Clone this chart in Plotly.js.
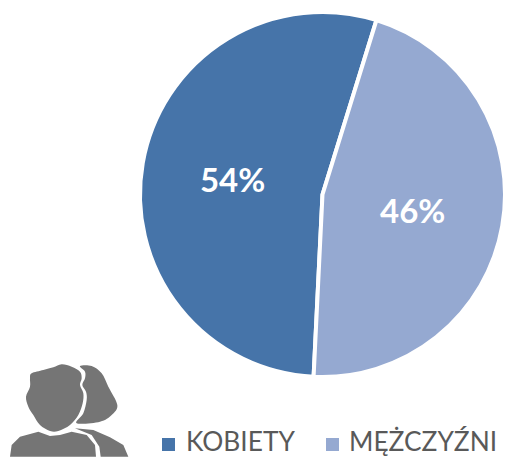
<!DOCTYPE html>
<html><head><meta charset="utf-8"><script src="https://cdn.plot.ly/plotly-3.0.0.min.js"></script>
<style>html,body{margin:0;padding:0;background:#fff}</style></head><body><div id="c" style="width:505px;height:458px"></div>
<script>
const labels=["KOBIETY","MĘŻCZYŹNI"];
const values=[54,46];
const colors=["#4674A9","#95A9D1"];
const W=505,H=458;
// Icon outlines in pixels
const manHead=[[95,70],[130,60],[160,52],[185,43],[215,50],[240,65],[245,85],[240,105],[250,130],[248,160],[235,195],[210,225],[175,243],[150,243],[120,225],[100,195],[85,170],[78,140],[90,110],[90,85]];
const manBody=[[30,320],[35,285],[60,260],[115,245],[150,258],[180,255],[215,245],[260,255],[285,285],[288,320]];
const womanHair=[[240,48],[275,48],[305,70],[325,110],[352,165],[335,195],[300,215],[230,220],[250,190],[260,150],[258,125],[247,105],[255,85],[255,65]];
const womanBody=[[225,235],[280,240],[330,262],[370,285],[385,320],[302,320],[298,290],[275,255]];
const px=p=>[p[0]/3/W,1-(350+p[1]/3)/H];
const fmt=p=>p[0].toFixed(5)+","+p[1].toFixed(5);
const polyPath=pts=>"M"+pts.map(p=>fmt(px(p))).join("L")+"Z";
const smoothPath=pts=>{
  const n=pts.length;let d="M"+fmt(px(pts[0]));
  for(let i=0;i<n;i++){
    const a=pts[(i-1+n)%n],b=pts[i],c=pts[(i+1)%n],e=pts[(i+2)%n];
    const c1=[b[0]+(c[0]-a[0])/6,b[1]+(c[1]-a[1])/6],c2=[c[0]-(e[0]-b[0])/6,c[1]-(e[1]-b[1])/6];
    d+="C"+fmt(px(c1))+" "+fmt(px(c2))+" "+fmt(px(c));
  }
  return d+"Z";
};
const iconShape=path=>({type:"path",xref:"paper",yref:"paper",path:path,fillcolor:"#757575",line:{width:0}});
const iconShapes=[iconShape(smoothPath(manHead)),iconShape(polyPath(manBody)),iconShape(smoothPath(womanHair)),iconShape(polyPath(womanBody))];
// Legend drawn by hand so its swatches can have the reference's size
const legendSwatchX=[162,326], legendTextX=[185,348];
const legendShapes=labels.map((l,i)=>({type:"rect",xref:"paper",yref:"paper",x0:legendSwatchX[i]/W,x1:(legendSwatchX[i]+13)/W,y0:1-451/H,y1:1-438/H,fillcolor:colors[i],line:{width:0}}));
const legendNotes=labels.map((l,i)=>({text:l,xref:"paper",yref:"paper",x:legendTextX[i]/W,y:0.001,xanchor:"left",yanchor:"bottom",showarrow:false,borderpad:0,font:{family:"Lato, Open Sans, sans-serif",size:26.3,color:"#595959"}}));
Plotly.newPlot("c",[{type:"pie",labels:labels,values:values,sort:false,direction:"clockwise",rotation:182.8,
marker:{colors:colors,line:{color:"#fff",width:4}},textinfo:"percent",textposition:"inside",insidetextorientation:"horizontal",
textfont:{family:"Lato, Open Sans, sans-serif",size:33,color:"#fff",weight:"bold"},showlegend:false,
domain:{x:[140/W,1],y:[1-377/H,1-12/H]}}],
{width:W,height:H,margin:{l:0,r:0,t:0,b:0},paper_bgcolor:"#fff",shapes:iconShapes.concat(legendShapes),annotations:legendNotes,showlegend:false},{displayModeBar:false});
</script></body></html>
